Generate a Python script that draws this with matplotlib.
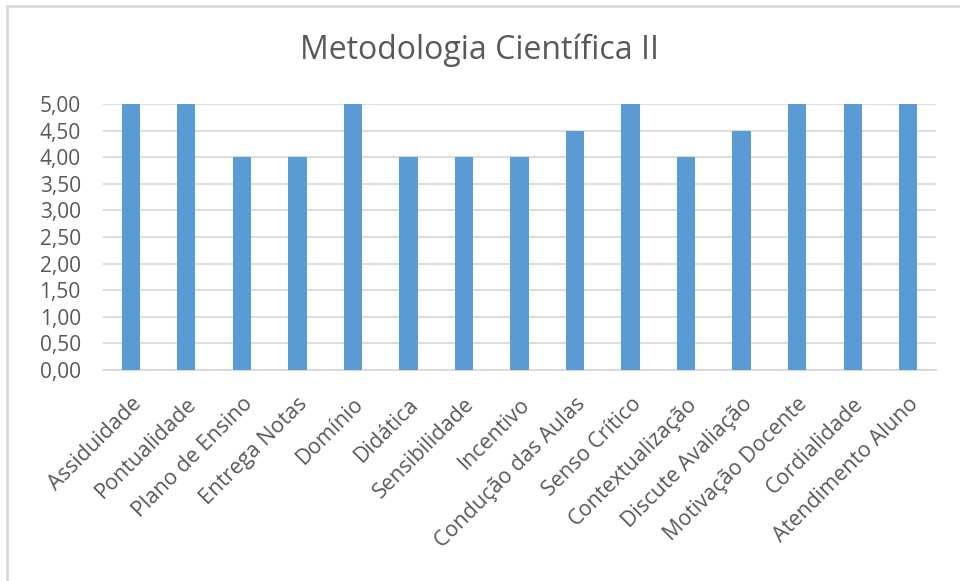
import matplotlib.pyplot as plt
from matplotlib.ticker import FuncFormatter
from matplotlib.patches import Rectangle

# Data
categorias = [
    "Assiduidade", "Pontualidade", "Plano de Ensino", "Entrega Notas",
    "Domínio", "Didática", "Sensibilidade", "Incentivo",
    "Condução das Aulas", "Senso Crítico", "Contextualização",
    "Discute Avaliação", "Motivação Docente", "Cordialidade",
    "Atendimento Aluno",
]
notas = [5.0, 5.0, 4.0, 4.0, 5.0, 4.0, 4.0, 4.0, 4.5, 5.0, 4.0, 4.5, 5.0, 5.0, 5.0]
y_ticks = [0.0, 0.5, 1.0, 1.5, 2.0, 2.5, 3.0, 3.5, 4.0, 4.5, 5.0]

plt.rcParams["font.family"] = ["Open Sans", "DejaVu Sans"]
text_color = "#595959"

fig = plt.figure(figsize=(9.6, 5.81), dpi=100)
ax = fig.add_axes([103 / 960, 1 - 370 / 581, 833 / 960, 266 / 581])

# Chart border (light gray frame, only left/top visible in the crop)
fig.patches.append(Rectangle((7 / 960, -0.1), 1.2, 1 - 6 / 581 + 0.1,
                             transform=fig.transFigure, fill=False,
                             edgecolor="#d9d9d9", linewidth=2))

x = range(len(categorias))
ax.bar(x, notas, width=0.33, color="#5b9bd5", zorder=3)

ax.set_xlim(-0.5, len(categorias) - 0.5)
ax.set_ylim(0, 5)
ax.set_yticks(y_ticks)
ax.yaxis.set_major_formatter(FuncFormatter(lambda v, p: f"{v:.2f}".replace(".", ",")))
ax.grid(axis="y", color="#d9d9d9", linewidth=1.3, zorder=0)
ax.set_axisbelow(True)

for s in ["top", "right", "left"]:
    ax.spines[s].set_visible(False)
ax.spines["bottom"].set_color("#d9d9d9")
ax.spines["bottom"].set_linewidth(1.3)

ax.set_xticks(list(x))
ax.set_xticklabels(categorias, rotation=45, ha="right", rotation_mode="anchor",
                   fontsize=15.5, color=text_color)
ax.tick_params(axis="x", length=0, pad=17)
ax.tick_params(axis="y", length=0, pad=16, labelsize=15, labelcolor=text_color)

fig.text(0.5, 1 - 50 / 581, "Metodologia Científica II", ha="center", va="center",
         fontsize=23, color=text_color)

fig.savefig("out.png", dpi=100)
